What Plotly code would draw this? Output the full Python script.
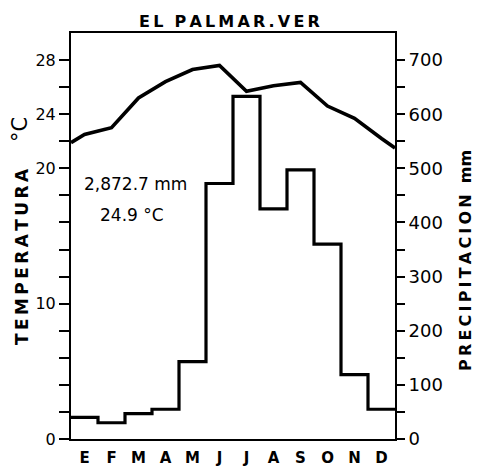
import plotly.graph_objects as go

months = ["E", "F", "M", "A", "M", "J", "J", "A", "S", "O", "N", "D"]
temperature = [22.5, 23.0, 25.2, 26.4, 27.3, 27.6, 25.7, 26.1, 26.35, 24.6, 23.7, 22.2]
temp_edge_start = 21.9
temp_edge_end = 21.5
precipitation = [40, 30, 47, 55, 143, 472, 633, 425, 497, 360, 119, 55]
left_ticks = [0, 2, 4, 6, 8, 10, 12, 14, 16, 18, 20, 22, 24, 26, 28]
left_labels = ["0", "", "", "", "", "10", "", "", "", "", "20", "", "24", "", "28"]
right_ticks = [0, 50, 100, 150, 200, 250, 300, 350, 400, 450, 500, 550, 600, 650, 700]
right_labels = ["0", "", "100", "", "200", "", "300", "", "400", "", "500", "", "600", "", "700"]

FONT = "DejaVu Sans"
TS = "\u2009"  # thin space for letter spacing
n = len(months)
month_centers = [i + 0.5 for i in range(n)]

# the page body adds an 8px offset; build the figure in page coordinates minus that
OFF = 8
W, H = 480 - OFF, 466 - OFF
plot_left, plot_right, plot_top, plot_bottom = 71, 395, 33, 439  # page pixels
l = plot_left - OFF
r = W - (plot_right - OFF)
t = plot_top - OFF
b = H - (plot_bottom - OFF)
pw, ph = W - l - r, H - t - b


def px(xp):
    return (xp - OFF - l) / pw


def py(yp):
    return (H - b - (yp - OFF)) / ph


def spaced(word):
    return TS.join(list(word))


fig = go.Figure()

# precipitation step line (right axis)
fig.add_trace(go.Scatter(
    x=list(range(n + 1)),
    y=precipitation + [precipitation[-1]],
    mode="lines",
    line=dict(color="black", width=3.2, shape="hv"),
    yaxis="y2",
    hoverinfo="skip",
    showlegend=False,
))

# temperature line (left axis)
fig.add_trace(go.Scatter(
    x=[0] + month_centers + [n],
    y=[temp_edge_start] + temperature + [temp_edge_end],
    mode="lines",
    line=dict(color="black", width=3.6),
    hoverinfo="skip",
    showlegend=False,
))

title_text = spaced("EL") + "  " + spaced("PALMAR.VER")
right_title = spaced("PRECIPITACION") + "  mm"


def ann(text, xp, yp, size, bold=False, angle=0):
    return dict(text=text, x=px(xp), y=py(yp), xref="paper", yref="paper",
                xanchor="center", yanchor="middle", showarrow=False,
                textangle=angle,
                font=dict(size=size, weight="bold" if bold else "normal"))


fig.update_layout(
    width=W, height=H,
    margin=dict(l=l, r=r, t=t, b=b),
    paper_bgcolor="white", plot_bgcolor="white",
    font=dict(family=FONT, color="black"),
    xaxis=dict(
        range=[0, n], tickvals=month_centers, ticktext=months,
        showgrid=False, zeroline=False, showline=True, linecolor="black",
        linewidth=2, mirror=True, ticks="", automargin=False,
        tickfont=dict(family=FONT, size=15, weight="bold"),
        ticklabelstandoff=4, fixedrange=True,
    ),
    yaxis=dict(
        range=[0, 30], tickvals=left_ticks, ticktext=left_labels,
        showgrid=False, zeroline=False, showline=True, linecolor="black",
        linewidth=2, ticks="outside", ticklen=10, tickwidth=2, automargin=False,
        tickcolor="black", tickfont=dict(family=FONT, size=16),
    ),
    yaxis2=dict(
        range=[0, 750], tickvals=right_ticks, ticktext=right_labels,
        overlaying="y", side="right", automargin=False,
        showgrid=False, zeroline=False, showline=True, linecolor="black",
        linewidth=2, ticks="outside", ticklen=8, tickwidth=2,
        tickcolor="black", tickfont=dict(family=FONT, size=18),
    ),
    annotations=[
        ann(title_text, 229, 21, 16, bold=True),
        ann("2,872.7 mm", 135, 184, 17),
        ann("24.9 \u00b0C", 132, 215, 17),
        ann(spaced("TEMPERATURA"), 22, 257, 17, bold=True, angle=-90),
        ann("\u00b0C", 20, 130, 21, angle=-90),
        ann(right_title, 465, 261, 16, bold=True, angle=-90),
    ],
)

fig.write_html("out.html")
